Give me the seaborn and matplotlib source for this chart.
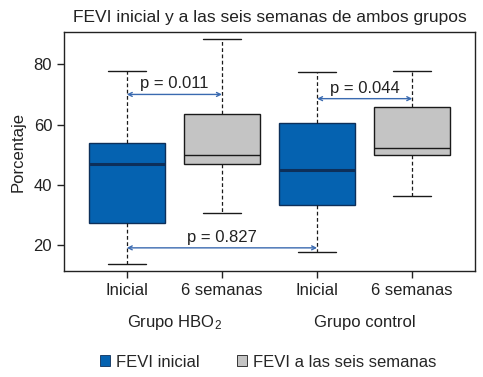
import numpy as np
import pandas as pd
import seaborn as sns
import matplotlib.pyplot as plt
from matplotlib.patches import Patch
from matplotlib.transforms import blended_transform_factory

# Box summaries: min, q1, median, q3, max
box_keys = ['hbo_ini', 'hbo_6s', 'ctl_ini', 'ctl_6s']
box_times = ['FEVI inicial', 'FEVI a las seis semanas', 'FEVI inicial', 'FEVI a las seis semanas']
box_min = [13.9, 30.5, 17.6, 36.2]
box_q1 = [27.2, 46.8, 33.2, 49.8]
box_med = [47.0, 49.8, 44.9, 52.1]
box_q3 = [53.8, 63.6, 60.6, 65.9]
box_max = [77.7, 88.3, 77.4, 77.7]

tick_labels = ['Inicial', '6 semanas', 'Inicial', '6 semanas']
group_labels = ['Grupo HBO$_2$', 'Grupo control']

# p-value brackets: (from box, to box, y level, label)
p_from = [0, 2, 0]
p_to = [1, 3, 2]
p_y = [70.0, 68.6, 19.1]
p_text = ['p = 0.011', 'p = 0.044', 'p = 0.827']

blue = '#0562b0'
gray = '#c4c4c4'
navy = '#0d2f5a'
palette = {'FEVI inicial': blue, 'FEVI a las seis semanas': gray}

# five points per box -> quartiles land exactly on the read values
rows = []
for i, key in enumerate(box_keys):
    for v in (box_min[i], box_q1[i], box_med[i], box_q3[i], box_max[i]):
        rows.append({'box': key, 'time': box_times[i], 'value': v})
df = pd.DataFrame(rows)

sns.set_style('white')
plt.rcParams['font.family'] = ['Liberation Sans', 'DejaVu Sans']
plt.rcParams['mathtext.default'] = 'regular'

fig = plt.figure(figsize=(4.83, 3.77), dpi=100)
ax = fig.add_axes([0.1325, 0.281, 0.851, 0.634])

sns.boxplot(
    data=df, x='box', y='value', hue='time', order=box_keys,
    palette=palette, dodge=False, width=0.8, whis=np.inf,
    linecolor='#1a1a1a', linewidth=1.0, legend=False, ax=ax,
    whiskerprops={'linestyle': (0, (3, 2)), 'linewidth': 0.9},
    capprops={'linewidth': 1.0},
    saturation=1,
)

# medians of the blue boxes are thicker and navy; blue box edges navy
for line in ax.lines:
    xd, yd = np.asarray(line.get_xdata()), np.asarray(line.get_ydata())
    if len(xd) == 2 and yd[0] == yd[1] and abs(abs(xd[1] - xd[0]) - 0.8) < 1e-6:
        idx = int(round(xd.mean()))
        if box_times[idx] == 'FEVI inicial':
            line.set_color(navy)
            line.set_linewidth(2.2)
for p in ax.patches:
    if np.allclose(p.get_facecolor()[:3], plt.matplotlib.colors.to_rgb(blue)):
        p.set_edgecolor(navy)

ax.set_xlim(-0.66, 3.66)
ax.set_ylim(11.4, 90.7)
ax.set_yticks([20, 40, 60, 80])
ax.set_xticks(range(4))
ax.set_xticklabels(tick_labels)
ax.tick_params(axis='both', labelsize=12, colors='#222222', direction='out',
               length=5, width=1, left=True, bottom=True)
ax.set_xlabel('')
ax.set_ylabel('Porcentaje', fontsize=12, color='#222222', labelpad=6)
for s in ax.spines.values():
    s.set_color('#222222')
    s.set_linewidth(1.0)

# p-value arrows
for a, b, y, t in zip(p_from, p_to, p_y, p_text):
    ax.annotate('', xy=(a, y), xytext=(b, y),
                arrowprops=dict(arrowstyle='<->', color='#3a6ab0', lw=1.0,
                                mutation_scale=7, shrinkA=0, shrinkB=0))
    ax.text((a + b) / 2, y + 1.0, t, ha='center', va='bottom',
            fontsize=12, color='#222222')

# group labels
tr = blended_transform_factory(ax.transData, ax.transAxes)
ax.text(0.5, -0.215, group_labels[0], transform=tr, ha='center', va='center',
        fontsize=12, color='#222222')
ax.text(2.5, -0.215, group_labels[1], transform=tr, ha='center', va='center',
        fontsize=12, color='#222222')

ax.set_title('FEVI inicial y a las seis semanas de ambos grupos', fontsize=12.5,
             color='#222222', pad=7)

handles = [Patch(facecolor=blue, edgecolor=navy, linewidth=0.6),
           Patch(facecolor=gray, edgecolor='#1a1a1a', linewidth=0.6)]
fig.legend(handles, ['FEVI inicial', 'FEVI a las seis semanas'], loc='lower center',
           bbox_to_anchor=(0.555, -0.02), ncol=2, frameon=False, fontsize=12,
           handlelength=0.6, handleheight=0.6, handletextpad=0.4, columnspacing=2.2)

fig.savefig('out.png', dpi=100)
